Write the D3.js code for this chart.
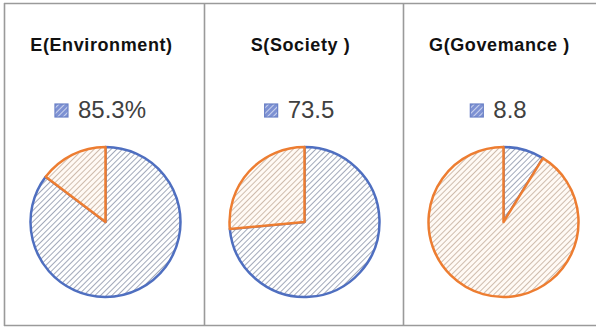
<!DOCTYPE html>
<html>
<head>
<meta charset="utf-8">
<script src="https://cdn.jsdelivr.net/npm/d3@7"></script>
<style>
  body { margin: 0; background: #fff; }
  svg { display: block; }
  .title { font-family: "Liberation Sans", Arial, sans-serif; font-weight: bold; font-size: 18px; fill: #111; }
  .value { font-family: "Liberation Sans", Arial, sans-serif; font-size: 24px; fill: #404040; }
</style>
</head>
<body>
<script>
// ESG panels
var titles = ["E(Environment)", "S(Society )", "G(Govemance )"];
var labels = ["85.3%", "73.5", "8.8"];
var mainValues = [85.3, 73.5, 8.8];
var restValues = [14.7, 26.5, 91.2];

var width = 598, height = 328;
var blue = "#4f6fc0", orange = "#ed7d31";

var svg = d3.select("body").append("svg")
  .attr("width", width)
  .attr("height", height);

var defs = svg.append("defs");

function hatch(id, bg, line, w) {
  var p = defs.append("pattern")
    .attr("id", id)
    .attr("patternUnits", "userSpaceOnUse")
    .attr("width", 4)
    .attr("height", 4)
    .attr("patternTransform", "rotate(45)");
  p.append("rect").attr("width", 4).attr("height", 4).attr("fill", bg);
  p.append("line")
    .attr("x1", 0).attr("y1", 0).attr("x2", 0).attr("y2", 4)
    .attr("stroke", line).attr("stroke-width", w);
}
hatch("hatchBlue", "#ffffff", "#6f7a94", 1.3);
hatch("hatchOrange", "#fffaf5", "#b59a86", 1.3);
hatch("hatchLegend", "#7d91d3", "#eef1fb", 1.4);

// panels
var x = d3.scaleBand()
  .domain(d3.range(titles.length))
  .range([4, 601])
  .paddingInner(0);

var frame = svg.append("g").attr("class", "frame");
frame.append("line").attr("x1", 4).attr("x2", 596).attr("y1", 3.5).attr("y2", 3.5);
frame.append("line").attr("x1", 4).attr("x2", 596).attr("y1", 325.5).attr("y2", 325.5);
frame.append("line").attr("x1", 4.5).attr("x2", 4.5).attr("y1", 3).attr("y2", 326);
frame.append("line").attr("x1", 204.5).attr("x2", 204.5).attr("y1", 3).attr("y2", 326);
frame.append("line").attr("x1", 403.5).attr("x2", 403.5).attr("y1", 3).attr("y2", 326);
frame.selectAll("line").attr("stroke", "#9a9a9a").attr("stroke-width", 1.6);

var pie = d3.pie().sort(null).value(function (d) { return d.v; });
var arc = d3.arc().innerRadius(0).outerRadius(75);

var panel = svg.selectAll(".panel")
  .data(titles)
  .enter().append("g")
  .attr("class", "panel")
  .attr("transform", function (d, i) { return "translate(" + (x(i) + x.bandwidth() / 2) + ",0)"; });

panel.append("text")
  .attr("class", "title")
  .attr("x", -2)
  .attr("y", 51)
  .attr("text-anchor", "middle")
  .style("letter-spacing", "0.6px")
  .text(function (d) { return d; });

// legend, centred on the panel
var leg = panel.append("g");
leg.append("rect")
  .attr("y", 104)
  .attr("width", 13)
  .attr("height", 13)
  .attr("fill", "url(#hatchLegend)")
  .attr("stroke", "#6a80c6")
  .attr("stroke-width", 1.2);
leg.append("text")
  .attr("class", "value")
  .attr("x", 23)
  .attr("y", 118)
  .text(function (d, i) { return labels[i]; });
leg.attr("transform", function () {
  var w = 23 + d3.select(this).select("text").node().getComputedTextLength();
  return "translate(" + (-w / 2 - 3) + ",0)";
});

// pies
var pies = panel.append("g")
  .attr("transform", "translate(2,222)");

pies.selectAll("path")
  .data(function (d, i) {
    return pie([{ v: mainValues[i], k: "main" }, { v: restValues[i], k: "rest" }]);
  })
  .enter().append("path")
  .attr("d", arc)
  .attr("fill", function (d) { return d.data.k === "main" ? "url(#hatchBlue)" : "url(#hatchOrange)"; })
  .attr("stroke", function (d) { return d.data.k === "main" ? blue : orange; })
  .attr("stroke-width", 2.5)
  .attr("stroke-linejoin", "round");
</script>
</body>
</html>
